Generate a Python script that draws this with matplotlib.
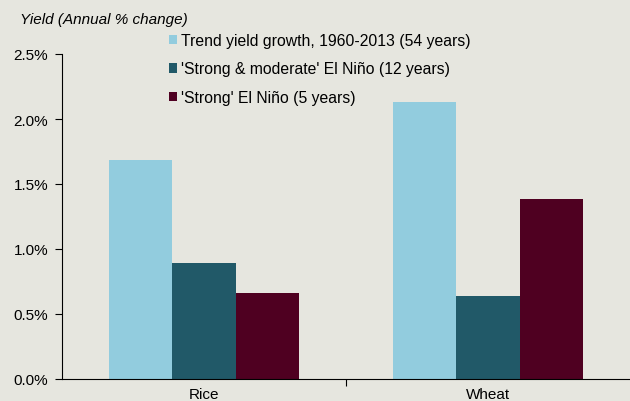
import matplotlib
matplotlib.use("Agg")
import matplotlib.pyplot as plt
from matplotlib.ticker import FuncFormatter, FixedLocator
from matplotlib.patches import Patch
import numpy as np

categories = ["Rice", "Wheat"]
series_names = ["Trend yield growth, 1960-2013 (54 years)",
                "'Strong & moderate' El Niño (12 years)",
                "'Strong' El Niño (5 years)"]
trend = [1.685, 2.13]
strong_moderate = [0.89, 0.64]
strong = [0.66, 1.385]
colors = ["#92CCDE", "#215968", "#4F0021"]
bg = "#E6E6DF"

plt.rcParams['font.family'] = ['Liberation Sans', 'DejaVu Sans']

fig = plt.figure(figsize=(6.3, 4.02), dpi=100, facecolor=bg)
ax = fig.add_axes([62/630, 22/402, 568/630, 325/402])
ax.set_facecolor(bg)

x = np.arange(len(categories))
w = 0.222
for i, (vals, c) in enumerate(zip([trend, strong_moderate, strong], colors)):
    ax.bar(x + (i - 1) * w, vals, width=w, color=c, edgecolor='none')

ax.set_xlim(-0.5, 1.5)
ax.set_ylim(0, 2.5)
ax.set_yticks(np.arange(0, 2.51, 0.5))
ax.yaxis.set_major_formatter(FuncFormatter(lambda v, p: f"{v:.1f}%"))
ax.set_xticks(x)
ax.set_xticklabels(categories)
ax.xaxis.set_minor_locator(FixedLocator([0.5]))
ax.tick_params(axis='x', which='major', length=0, pad=6, labelsize=11)
ax.tick_params(axis='x', which='minor', length=5, width=0.8, direction='out')
ax.tick_params(axis='y', length=5, width=0.8, direction='out', labelsize=11, pad=5)
for s in ['top', 'right']:
    ax.spines[s].set_visible(False)
for s in ['left', 'bottom']:
    ax.spines[s].set_linewidth(0.8)

fig.text(20/630, 1 - 20/402, "Yield (Annual % change)", fontsize=11,
         style='italic', va='center', ha='left')

handles = [Patch(facecolor=c, edgecolor='none') for c in colors]
fig.legend(handles, series_names, loc='upper left',
           bbox_to_anchor=(169/630, 1 - 34/402), frameon=False,
           fontsize=11.3, handlelength=0.53, handleheight=0.53,
           handletextpad=0.25, labelspacing=0.86, borderpad=0,
           borderaxespad=0)

fig.savefig("out.png", dpi=100, facecolor=bg)
